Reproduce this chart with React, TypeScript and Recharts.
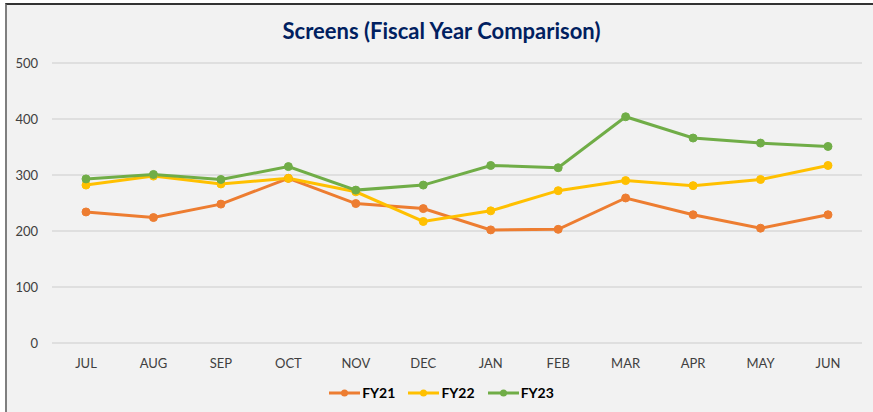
import { LineChart, Line, XAxis, YAxis, CartesianGrid } from "recharts";

const months = ["JUL", "AUG", "SEP", "OCT", "NOV", "DEC", "JAN", "FEB", "MAR", "APR", "MAY", "JUN"];
const fy21 = [234, 224, 248, 294, 249, 240, 202, 203, 259, 229, 205, 229];
const fy22 = [282, 298, 284, 294, 270, 217, 236, 272, 290, 281, 292, 317];
const fy23 = [293, 301, 292, 315, 273, 282, 317, 313, 404, 366, 357, 351];
const yTicks = [0, 100, 200, 300, 400, 500];

const series = [
  { key: "FY21", color: "#ED7D31" },
  { key: "FY22", color: "#FFC000" },
  { key: "FY23", color: "#70AD47" },
];

const data = months.map((m, i) => ({ month: m, FY21: fy21[i], FY22: fy22[i], FY23: fy23[i] }));

const font = "Lato, 'Open Sans', sans-serif";

function LegendRow() {
  return (
    <div
      style={{
        position: "absolute",
        top: 384,
        left: 0,
        width: 883,
        display: "flex",
        justifyContent: "center",
        gap: 13,
        fontFamily: font,
        fontWeight: 700,
        fontSize: 14,
        color: "#000",
      }}
    >
      {series.map((s) => (
        <div key={s.key} style={{ display: "flex", alignItems: "center", gap: 2 }}>
          <svg width={31} height={12}>
            <line x1={0} y1={6} x2={31} y2={6} stroke={s.color} strokeWidth={3} />
            <circle cx={15.5} cy={6} r={3.5} fill={s.color} />
          </svg>
          <span>{s.key}</span>
        </div>
      ))}
    </div>
  );
}

export default function App() {
  return (
    <div style={{ position: "fixed", left: 0, top: 0, width: 873, height: 412, background: "#fff" }}>
      <div
        style={{
          position: "absolute",
          left: 5,
          top: 3,
          width: 868,
          height: 409,
          background: "#F2F2F2",
          borderTop: "2px solid #333",
          borderLeft: "2px solid #7F7F7F",
          boxSizing: "border-box",
        }}
      />
      <div
        style={{
          position: "absolute",
          top: 17,
          left: 0,
          width: 883,
          textAlign: "center",
          fontFamily: font,
          fontWeight: 700,
          fontSize: 22,
          color: "#002060",
        }}
      >
        Screens (Fiscal Year Comparison)
      </div>
      <div style={{ position: "absolute", left: 0, top: 0 }}>
        <LineChart width={873} height={412} data={data} margin={{ top: 63, right: 11, left: 0, bottom: 39 }}>
          <CartesianGrid vertical={false} stroke="#D9D9D9" strokeWidth={1.5} />
          <XAxis
            dataKey="month"
            axisLine={false}
            tickLine={false}
            tickSize={0}
            tickMargin={16}
            height={30}
            interval={0}
            padding={{ left: 34, right: 34 }}
            tick={{ fill: "#404040", fontSize: 13, fontFamily: font }}
          />
          <YAxis
            width={52}
            domain={[0, 500]}
            ticks={yTicks}
            axisLine={false}
            tickLine={false}
            tickSize={0}
            tickMargin={14}
            tick={{ fill: "#404040", fontSize: 13, fontFamily: font }}
          />
          {series.map((s) => (
            <Line
              key={s.key}
              dataKey={s.key}
              stroke={s.color}
              strokeWidth={3}
              dot={{ r: 4, fill: s.color, stroke: s.color, strokeWidth: 1 }}
              activeDot={false}
              isAnimationActive={false}
            />
          ))}
        </LineChart>
      </div>
      <LegendRow />
    </div>
  );
}
